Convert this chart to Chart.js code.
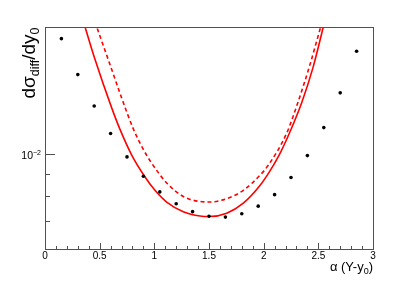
<!DOCTYPE html>
<html>
<head>
<meta charset="utf-8">
<script src="https://cdn.jsdelivr.net/npm/chart.js@4.4.0/dist/chart.umd.min.js"></script>
<style>
html, body { margin: 0; padding: 0; background: #fff; }
canvas { display: block; }
</style>
</head>
<body>
<canvas id="c" width="415" height="281"></canvas>
<script>
// measured points
const alphaPoints = [0.15, 0.3, 0.45, 0.6, 0.75, 0.9, 1.05, 1.2, 1.35, 1.5, 1.65, 1.8, 1.95, 2.1, 2.25, 2.4, 2.55, 2.7, 2.85];
const dataValues = [0.01854, 0.01530, 0.01294, 0.01117, 0.00986, 0.00889, 0.00818, 0.00768, 0.00736, 0.00718,
                    0.00715, 0.00728, 0.00758, 0.00806, 0.00883, 0.00993, 0.01153, 0.01388, 0.01734];

// solid curve (runs past the top of the frame)
const solidAlpha = [0.352, 0.457, 0.610, 0.686, 0.793, 0.915, 1.006, 1.113, 1.265, 1.418, 1.503, 1.662, 1.814,
                    1.966, 2.058, 2.134, 2.241, 2.351, 2.451, 2.557];
const solidValues = [0.02028, 0.01660, 0.01281, 0.01142, 0.00996, 0.00886, 0.00825, 0.00775, 0.00736, 0.00719,
                     0.00717, 0.00730, 0.00770, 0.00846, 0.00915, 0.00987, 0.01128, 0.01324, 0.01588, 0.02028];

// dashed curve
const dashedAlpha = [0.457, 0.610, 0.704, 0.808, 0.887, 0.968, 1.113, 1.265, 1.418, 1.509, 1.662, 1.814, 1.966,
                     2.042, 2.211, 2.317, 2.417, 2.485, 2.535];
const dashedValues = [0.02028, 0.01573, 0.01344, 0.01145, 0.01040, 0.00960, 0.00858, 0.00798, 0.00777, 0.00775,
                      0.00789, 0.00825, 0.00894, 0.00943, 0.01120, 0.01328, 0.01593, 0.01830, 0.02028];

// axes
const xRange = [0, 3];
const yRange = [0.00603, 0.01973];
const xMajorTicks = [0, 0.5, 1, 1.5, 2, 2.5, 3];
const xTickLabels = ["0", "0.5", "1", "1.5", "2", "2.5", "3"];
const xMinorTicks = [0.1, 0.2, 0.3, 0.4, 0.6, 0.7, 0.8, 0.9, 1.1, 1.2, 1.3, 1.4, 1.6, 1.7, 1.8, 1.9,
                     2.1, 2.2, 2.3, 2.4, 2.6, 2.7, 2.8, 2.9];
const yMajorTicks = [0.01];
const yMinorTicks = [0.009, 0.008, 0.007];

const FONT = '"Liberation Sans", Arial, Helvetica, sans-serif';

function toXY(xs, ys) {
    return xs.map((x, i) => ({ x: x, y: ys[i] }));
}

// draws text runs like [{t, size, dy}] ending at x (align right) or starting at x
function richText(ctx, parts, x, y, align) {
    let total = 0;
    parts.forEach(p => { ctx.font = p.size + 'px ' + FONT; p.w = ctx.measureText(p.t).width; total += p.w; });
    let cx = align === 'right' ? x - total : (align === 'center' ? x - total / 2 : x);
    ctx.textAlign = 'left';
    ctx.textBaseline = 'alphabetic';
    parts.forEach(p => {
        ctx.font = p.size + 'px ' + FONT;
        ctx.fillText(p.t, cx, y + (p.dy || 0));
        cx += p.w;
    });
}

const rootFrame = {
    id: 'rootFrame',
    afterDraw(chart) {
        const ctx = chart.ctx;
        const a = chart.chartArea;
        const xs = chart.scales.x, ys = chart.scales.y;
        ctx.save();
        ctx.strokeStyle = '#505050';
        ctx.lineWidth = 1;
        ctx.strokeRect(Math.round(a.left) + 0.5, Math.round(a.top) + 0.5,
                       Math.round(a.right - a.left), Math.round(a.bottom - a.top));
        ctx.beginPath();
        xMajorTicks.forEach(v => {
            const px = Math.round(xs.getPixelForValue(v)) + 0.5;
            ctx.moveTo(px, a.bottom); ctx.lineTo(px, a.bottom - 6);
        });
        xMinorTicks.forEach(v => {
            const px = Math.round(xs.getPixelForValue(v)) + 0.5;
            ctx.moveTo(px, a.bottom); ctx.lineTo(px, a.bottom - 3);
        });
        yMajorTicks.forEach(v => {
            const py = Math.round(ys.getPixelForValue(v)) + 0.5;
            ctx.moveTo(a.left, py); ctx.lineTo(a.left + 10, py);
        });
        yMinorTicks.forEach(v => {
            const py = Math.round(ys.getPixelForValue(v)) + 0.5;
            ctx.moveTo(a.left, py); ctx.lineTo(a.left + 5, py);
        });
        ctx.stroke();

        ctx.fillStyle = '#000';
        ctx.font = '10px ' + FONT;
        ctx.textAlign = 'center';
        ctx.textBaseline = 'alphabetic';
        xMajorTicks.forEach((v, i) => {
            ctx.fillText(xTickLabels[i], xs.getPixelForValue(v), a.bottom + 10);
        });

        yMajorTicks.forEach(v => {
            const py = ys.getPixelForValue(v);
            richText(ctx, [{ t: '10', size: 10.5, dy: 0 }, { t: '\u22122', size: 7, dy: -4 }], 41, py + 5, 'right');
        });

        // x title
        richText(ctx, [{ t: '\u03b1 (Y-y', size: 13 }, { t: '0', size: 9, dy: 3 }, { t: ')', size: 13 }],
                 373, 271, 'right');

        // y title
        ctx.translate(35, a.top + 0.5);
        ctx.rotate(-Math.PI / 2);
        richText(ctx, [{ t: 'd\u03c3', size: 19 }, { t: 'diff', size: 12.5, dy: 3.5 },
                       { t: '/dy', size: 19 }, { t: '0', size: 12.5, dy: 3.5 }], 0, 0, 'right');
        ctx.restore();
    }
};

new Chart(document.getElementById('c'), {
    type: 'scatter',
    data: {
        datasets: [
            {
                data: toXY(alphaPoints, dataValues),
                showLine: false,
                pointRadius: 1.8,
                pointBackgroundColor: '#000',
                pointBorderWidth: 0,
                order: 0
            },
            {
                data: toXY(solidAlpha, solidValues),
                showLine: true,
                borderColor: '#ff0000',
                borderWidth: 1.6,
                pointRadius: 0,
                cubicInterpolationMode: 'monotone',
                order: 1
            },
            {
                data: toXY(dashedAlpha, dashedValues),
                showLine: true,
                borderColor: '#ff0000',
                borderWidth: 1.6,
                borderDash: [4, 3],
                pointRadius: 0,
                cubicInterpolationMode: 'monotone',
                order: 2
            }
        ]
    },
    options: {
        responsive: false,
        animation: false,
        devicePixelRatio: 1,
        layout: { padding: { left: 45, right: 42, top: 27, bottom: 32 } },
        plugins: { legend: { display: false }, tooltip: { enabled: false } },
        scales: {
            x: { type: 'linear', min: xRange[0], max: xRange[1], display: false },
            y: { type: 'logarithmic', min: yRange[0], max: yRange[1], display: false }
        }
    },
    plugins: [rootFrame]
});
</script>
</body>
</html>
